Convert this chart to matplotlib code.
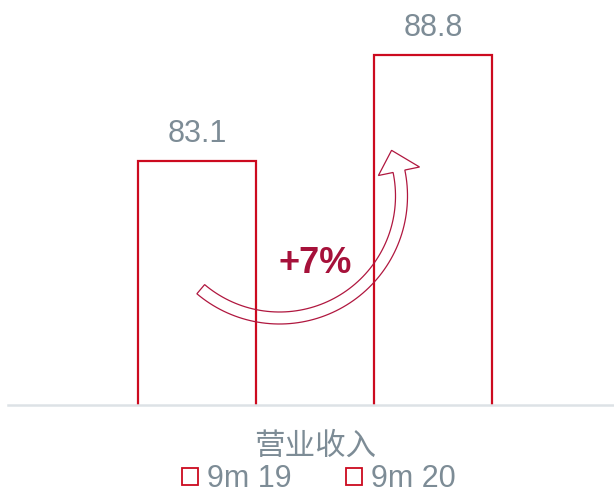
import numpy as np
import matplotlib
matplotlib.use("Agg")
import matplotlib.pyplot as plt
from matplotlib.patches import Patch, Polygon

plt.rcParams['font.family'] = ['Liberation Sans', 'Noto Sans CJK SC', 'DejaVu Sans']

# data
periods = ['9m 19', '9m 20']
revenue = [83.1, 88.8]
category = '营业收入'
growth_label = '+7%'

red = '#cc0a1f'
dark_red = '#a6113a'
grey = '#7d8c96'

W, H = 614, 496
fig = plt.figure(figsize=(W / 100, H / 100), dpi=100)
ax = fig.add_axes([0.013, 0.1835, 0.987, 0.8165])

xpos = [0, 1]
ax.bar(xpos, revenue, width=0.5, bottom=0, facecolor='white',
       edgecolor=red, linewidth=1.6)
ax.set_ylim(70, 91.78)
ax.set_xlim(-0.80, 1.767)

for x, v in zip(xpos, revenue):
    ax.annotate(f'{v}', (x, v), xytext=(0, 9), textcoords='offset points',
                ha='center', va='bottom', fontsize=22, color=grey)

# curved growth arrow (outline only), built in pixel space -> figure fraction
cx, cy, r, half_w = 279.5, 196.0, 122.0, 6.0
t = np.radians(np.linspace(130.2, -11.7, 80))
outer = np.c_[cx + (r + half_w) * np.cos(t), cy + (r + half_w) * np.sin(t)]
inner = np.c_[cx + (r - half_w) * np.cos(t), cy + (r - half_w) * np.sin(t)]
te = t[-1]
normal = np.array([np.cos(te), np.sin(te)])
tangent = np.array([np.sin(te), -np.cos(te)])
base = np.array([cx, cy]) + r * normal
head = [base + 21 * normal, base + 22 * tangent - 3 * normal, base - 21 * normal]
pts = np.vstack([outer, head, inner[::-1]])
pts_fig = np.c_[pts[:, 0] / W, 1 - pts[:, 1] / H]
fig.patches.append(Polygon(pts_fig, closed=True, transform=fig.transFigure,
                           facecolor='none', edgecolor='#b0173f', linewidth=0.9,
                           zorder=3))

ax.text(0.5, 77.6, growth_label, ha='center', va='center', fontsize=26,
        fontweight='bold', color=dark_red, zorder=4)

# axes styling
for s in ['top', 'right', 'left']:
    ax.spines[s].set_visible(False)
ax.spines['bottom'].set_color('#dde2e6')
ax.spines['bottom'].set_linewidth(1.8)
ax.set_yticks([])
ax.set_xticks([0.5])
ax.set_xticklabels([category], fontsize=22, color=grey)
ax.tick_params(axis='x', length=0, pad=19)

handles = [Patch(facecolor='white', edgecolor=red, linewidth=1.3) for _ in periods]
fig.legend(handles, periods, loc='center', bbox_to_anchor=(319 / W, 0.034),
           ncol=2, frameon=False, fontsize=22, labelcolor=grey,
           handlelength=0.5, handleheight=0.5, handletextpad=0.3,
           columnspacing=1.8, borderpad=0.1)

fig.savefig('out.png', dpi=100)
